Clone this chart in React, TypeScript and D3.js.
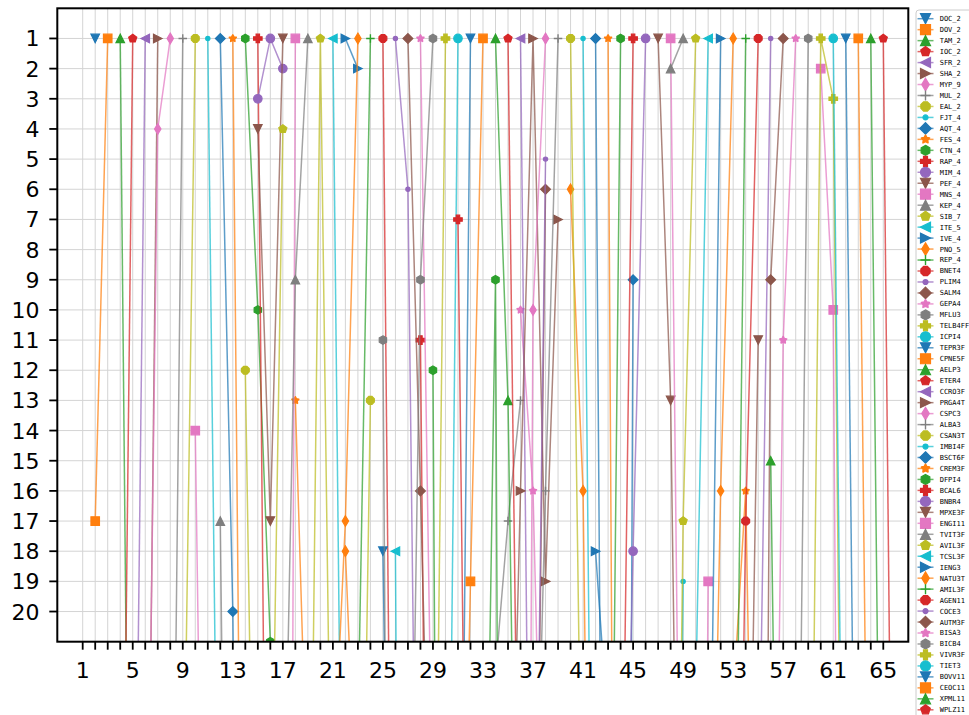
import React from 'react';
import * as d3 from 'd3';

// Tickers in plotting order (legend order).
const tickers = [
  'DOC_2', 'DOV_2', 'TAM_2', 'IOC_2', 'SFR_2', 'SHA_2', 'MYP_9', 'MUL_2', 'EAL_2', 'FJT_4',
  'AQT_4', 'FES_4', 'CTN_4', 'RAP_4', 'MIM_4', 'PEF_4', 'MNS_4', 'KEP_4', 'SIB_7', 'ITE_5',
  'IVE_4', 'PNO_5', 'REP_4', 'BNET4', 'PLIM4', 'SALM4', 'GEPA4', 'MFLU3', 'TELB4FF', 'ICPI4',
  'TEPR3F', 'CPNE5F', 'AELP3', 'ETER4', 'CCRO3F', 'PRGA4T', 'CSPC3', 'ALBA3', 'CSAN3T', 'IMBI4F',
  'BSCT6F', 'CREM3F', 'DFPI4', 'BCAL6', 'BNBR4', 'MPXE3F', 'ENGI11', 'TVIT3F', 'AVIL3F', 'TCSL3F',
  'IENG3', 'NATU3T', 'AMIL3F', 'AGEN11', 'COCE3', 'AUTM3F', 'BISA3', 'BICB4', 'VIVR3F', 'TIET3',
  'BOVV11', 'CEOC11', 'XPML11', 'WPLZ11',
];

const palette = ['#1f77b4', '#ff7f0e', '#2ca02c', '#d62728', '#9467bd', '#8c564b', '#e377c2', '#7f7f7f', '#bcbd22', '#17becf'];
const markerCycle = ['v', 's', '^', 'p', '<', '>', 'd', '+', '8', '.', 'D', '*', 'h', 'P', 'o'];

// Ranking path of each ticker: [period, rank]; null breaks the line.
type Pt = [number, number] | null;
const rankPaths: Pt[][] = [
  [[2, 1]],
  [[2, 17], [3, 1]],
  [[4, 1], [5, 44]],
  [[4, 38], [5, 1]],
  [[5, 37], [6, 1]],
  [[6, 38], [7, 1]],
  [[6, 35], [7, 4], [8, 1]],
  [[8, 38], [9, 1], null, [34, 22], [35, 17], [36, 13]],
  [[9, 29], [10, 1], null, [14, 12], [15, 38]],
  [[11, 1], [12, 36]],
  [[12, 1], [13, 20], [14, 60]],
  [[13, 1], [14, 45], null, [18, 13], [19, 27]],
  [[14, 1], [15, 10], [16, 21], [17, 40]],
  [[15, 1], [16, 46], null, [28, 11], [29, 54]],
  [[15, 3], [16, 1], [17, 2]],
  [[15, 4], [16, 17], [17, 1]],
  [[10, 14], [11, 43], null, [17, 100], [18, 1]],
  [[12, 17], [13, 53], null, [17, 30], [18, 9], [19, 1]],
  [[16, 30], [17, 4], null, [19, 37], [20, 1], [21, 32]],
  [[21, 1], [22, 40]],
  [[22, 1], [23, 2]],
  [[21, 26], [22, 17], [23, 1], null, [40, 6], [41, 16], [42, 49]],
  [[23, 24], [24, 1]],
  [[25, 1], [26, 45]],
  [[26, 1], [27, 6], [28, 41]],
  [[27, 1], [28, 16], [29, 32], null, [37, 39], [38, 6]],
  [[28, 1], [29, 28], null, [36, 10], [37, 16], [38, 33]],
  [[27, 36], [28, 9], [29, 1]],
  [[29, 37], [30, 1]],
  [[30, 41], [31, 1]],
  [[25, 18], [26, 45], null, [31, 41], [32, 1]],
  [[31, 39], [32, 19], [33, 1]],
  [[34, 1], [35, 13], [36, 40]],
  [[35, 1], [36, 34]],
  [[36, 1], [37, 41]],
  [[35, 33], [36, 16], [37, 1], [38, 19], [39, 7]],
  [[36, 80], [37, 10], [38, 1]],
  [[37, 32], [38, 16], [39, 1]],
  [[23, 40], [24, 13], null, [40, 1], [41, 31]],
  [[41, 1], [42, 43], null, [48, 60], [49, 19]],
  [[42, 1], [43, 58], null, [44, 100], [45, 9]],
  [[43, 1], [44, 70], null, [53, 23], [54, 16], [55, 40]],
  [[29, 12], [30, 80], null, [33, 36], [34, 9], [35, 99], null, [43, 41], [44, 1]],
  [[31, 7], [32, 42], null, [44, 32], [45, 1]],
  [[44, 36], [45, 18], [46, 1]],
  [[47, 1], [48, 13], [49, 43], null, [54, 36], [55, 11]],
  [[48, 1], [49, 39], null, [50, 70], [51, 19], null, [60, 2], [61, 10], [62, 70]],
  [[48, 2], [49, 1]],
  [[48, 50], [49, 17], [50, 1]],
  [[26, 18], [27, 80], null, [50, 23], [51, 1]],
  [[42, 18], [43, 24], null, [51, 32], [52, 1]],
  [[22, 18], [23, 28], null, [51, 37], [52, 16], [53, 1]],
  [[53, 35], [54, 1]],
  [[53, 45], [54, 17], [55, 1]],
  [[37, 37], [38, 5], null, [55, 28], [56, 1]],
  [[55, 69], [56, 9], [57, 1]],
  [[56, 43], [57, 11], [58, 1]],
  [[25, 11], [26, 70], null, [58, 37], [59, 1]],
  [[59, 39], [60, 1], [61, 3], [62, 43]],
  [[61, 1], [62, 38]],
  [[62, 1], [63, 39]],
  [[63, 1], [64, 38]],
  [[56, 15], [57, 45], null, [64, 1], [65, 39]],
  [[65, 1], [66, 42]],
];

const xTicks = d3.range(1, 66);
const xLabelTicks = d3.range(1, 66, 4);
const yTicks = d3.range(1, 21);

const W = 969;
const H = 715;
const plot = { left: 57.3, right: 908.3, top: 8.3, bottom: 641.7 };

const x = d3.scaleLinear().domain([-1.03, 67.0]).range([plot.left, plot.right]);
const y = d3.scaleLinear().domain([0, 21]).range([plot.top, plot.bottom]);

function markerPath(m: string, s: number): string {
  const r = s / 2;
  const poly = (pts: [number, number][]) =>
    'M' + pts.map((p) => p[0].toFixed(2) + ',' + p[1].toFixed(2)).join('L') + 'Z';
  const regular = (n: number, rad: number, rot: number) =>
    poly(
      d3.range(n).map((k) => {
        const a = rot + (2 * Math.PI * k) / n;
        return [rad * Math.sin(a), -rad * Math.cos(a)] as [number, number];
      })
    );
  const circle = (rad: number) =>
    `M${-rad},0A${rad},${rad} 0 1,0 ${rad},0A${rad},${rad} 0 1,0 ${-rad},0Z`;
  switch (m) {
    case 'v':
      return poly([[0, r], [-r, -r], [r, -r]]);
    case '^':
      return poly([[0, -r], [-r, r], [r, r]]);
    case '<':
      return poly([[-r, 0], [r, -r], [r, r]]);
    case '>':
      return poly([[r, 0], [-r, -r], [-r, r]]);
    case 's':
      return poly([[-r, -r], [r, -r], [r, r], [-r, r]]);
    case 'D': {
      const q = r * 1.15;
      return poly([[0, -q], [q, 0], [0, q], [-q, 0]]);
    }
    case 'd': {
      const q = r * 1.25;
      return poly([[0, -q], [q * 0.6, 0], [0, q], [-q * 0.6, 0]]);
    }
    case 'o':
      return circle(r);
    case '.':
      return circle(r * 0.5);
    case 'p':
      return regular(5, r, 0);
    case 'h':
      return regular(6, r, 0);
    case '8':
      return regular(8, r, Math.PI / 8);
    case '*': {
      const pts: [number, number][] = [];
      for (let k = 0; k < 10; k++) {
        const rad = k % 2 === 0 ? r * 0.85 : r * 0.45;
        const a = (Math.PI * k) / 5;
        pts.push([rad * Math.sin(a), -rad * Math.cos(a)]);
      }
      return poly(pts);
    }
    case 'P': {
      const u = s / 6;
      const raw: [number, number][] = [
        [-1.2, -3], [-1.2, -1.2], [-3, -1.2], [-3, 1.2], [-1.2, 1.2], [-1.2, 3],
        [1.2, 3], [1.2, 1.2], [3, 1.2], [3, -1.2], [1.2, -1.2], [1.2, -3],
      ];
      return poly(raw.map((p) => [p[0] * u, p[1] * u] as [number, number]));
    }
    case '+':
      return `M${-r},0L${r},0M0,${-r}L0,${r}`;
    default:
      return circle(r);
  }
}

function Marker({ m, color, cx, cy, size }: { m: string; color: string; cx: number; cy: number; size: number }) {
  const d = markerPath(m, size);
  if (m === '+') {
    return <path d={d} transform={`translate(${cx},${cy})`} fill="none" stroke={color} strokeWidth={1.4} />;
  }
  return (
    <path
      d={d}
      transform={`translate(${cx},${cy})`}
      fill={color}
      stroke={color}
      strokeWidth={m === '*' ? 1.6 : 1.2}
      strokeLinejoin={m === '*' ? 'round' : 'miter'}
    />
  );
}

export default function App() {
  const line = d3
    .line<Pt>()
    .defined((d) => d !== null)
    .x((d) => x((d as [number, number])[0]))
    .y((d) => y((d as [number, number])[1]));

  const legendTop = 18.7;
  const legendStep = 10.97;

  return (
    <svg
      width={W}
      height={H}
      viewBox={`0 0 ${W} ${H}`}
      style={{ position: 'absolute', left: 0, top: 0, background: '#fff' }}
    >
      <defs>
        <clipPath id="plot-area">
          <rect x={plot.left} y={plot.top} width={plot.right - plot.left} height={plot.bottom - plot.top} />
        </clipPath>
      </defs>
      <rect x={0} y={0} width={W} height={H} fill="#fff" />

      {/* grid */}
      <g stroke="#d4d4d4" strokeWidth={1}>
        {xTicks.map((t) => (
          <line key={'gx' + t} x1={x(t)} x2={x(t)} y1={plot.top} y2={plot.bottom} />
        ))}
        {yTicks.map((t) => (
          <line key={'gy' + t} x1={plot.left} x2={plot.right} y1={y(t)} y2={y(t)} />
        ))}
      </g>

      {/* series */}
      <g clipPath="url(#plot-area)">
        {rankPaths.map((pts, i) => {
          const color = palette[i % 10];
          const m = markerCycle[i % 15];
          return (
            <g key={tickers[i]}>
              <path d={line(pts) || ''} fill="none" stroke={color} strokeWidth={1.5} strokeOpacity={0.72} />
              {pts
                .filter((p): p is [number, number] => p !== null && p[1] <= 22)
                .map((p, j) => (
                  <Marker key={j} m={m} color={color} cx={x(p[0])} cy={y(p[1])} size={8.5} />
                ))}
            </g>
          );
        })}
      </g>

      {/* axes frame */}
      <rect
        x={plot.left}
        y={plot.top}
        width={plot.right - plot.left}
        height={plot.bottom - plot.top}
        fill="none"
        stroke="#000"
        strokeWidth={2}
      />

      {/* ticks */}
      <g stroke="#000" strokeWidth={1.8}>
        {xTicks.map((t) => (
          <line key={'tx' + t} x1={x(t)} x2={x(t)} y1={plot.bottom} y2={plot.bottom + 8} />
        ))}
        {yTicks.map((t) => (
          <line key={'ty' + t} x1={plot.left - 8} x2={plot.left} y1={y(t)} y2={y(t)} />
        ))}
      </g>
      <g fontFamily="DejaVu Sans, sans-serif" fontSize={22} fill="#000">
        {xLabelTicks.map((t) => (
          <text key={'lx' + t} x={x(t)} y={677.7} textAnchor="middle">
            {t}
          </text>
        ))}
        {yTicks.map((t) => (
          <text key={'ly' + t} x={39.5} y={y(t) + 8} textAnchor="end">
            {t}
          </text>
        ))}
      </g>

      {/* legend */}
      <g>
        <rect x={916} y={10} width={80} height={720} rx={3} fill="#fff" fillOpacity={0.8} stroke="#cccccc" strokeWidth={1} />
        {tickers.map((name, i) => {
          const color = palette[i % 10];
          const m = markerCycle[i % 15];
          const cy = legendTop + i * legendStep;
          return (
            <g key={'lg' + name}>
              <line x1={917.5} x2={933.5} y1={cy} y2={cy} stroke={color} strokeWidth={1.5} strokeOpacity={0.72} />
              <Marker m={m} color={color} cx={925.5} cy={cy} size={10} />
              <text
                x={939.7}
                y={cy}
                dy="0.35em"
                fontFamily="DejaVu Sans Mono, monospace"
                fontSize={7}
                fill="#000"
              >
                {name}
              </text>
            </g>
          );
        })}
      </g>
    </svg>
  );
}
